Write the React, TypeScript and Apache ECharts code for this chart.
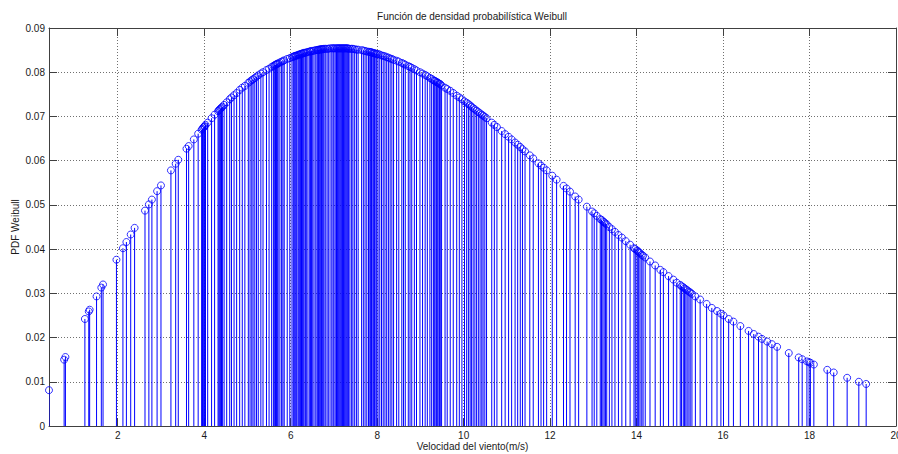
import React, { useEffect, useRef } from 'react';
import * as echarts from 'echarts';

const TITLE = 'Función de densidad probabilística Weibull';
const X_NAME = 'Velocidad del viento(m/s)';
const Y_NAME = 'PDF Weibull';

// wind speed samples (m/s)
const windSpeed = [
  0.41, 0.76, 0.79, 1.24, 1.33, 1.35, 1.51, 1.62, 1.66, 1.97,
  2.12, 2.2, 2.3, 2.39, 2.63, 2.72, 2.79, 2.91, 3.0, 3.23,
  3.34, 3.4, 3.59, 3.64, 3.76, 3.86, 3.94, 3.96, 3.98, 4.0,
  4.01, 4.03, 4.08, 4.17, 4.24, 4.32, 4.34, 4.36, 4.38, 4.4,
  4.42, 4.46, 4.52, 4.59, 4.63, 4.69, 4.75, 4.82, 4.88, 4.94,
  5.02, 5.06, 5.1, 5.13, 5.17, 5.21, 5.25, 5.31, 5.36, 5.44,
  5.5, 5.56, 5.6, 5.63, 5.65, 5.67, 5.69, 5.71, 5.75, 5.79,
  5.82, 5.85, 5.92, 5.98, 6.03, 6.06, 6.08, 6.1, 6.12, 6.14,
  6.17, 6.19, 6.21, 6.23, 6.25, 6.27, 6.29, 6.31, 6.34, 6.37,
  6.4, 6.44, 6.46, 6.48, 6.51, 6.54, 6.58, 6.61, 6.63, 6.64,
  6.66, 6.68, 6.7, 6.71, 6.73, 6.75, 6.77, 6.8, 6.84, 6.87,
  6.91, 6.95, 6.98, 7.0, 7.03, 7.06, 7.08, 7.1, 7.12, 7.14,
  7.16, 7.18, 7.2, 7.22, 7.24, 7.26, 7.28, 7.3, 7.32, 7.34,
  7.37, 7.41, 7.44, 7.48, 7.52, 7.56, 7.64, 7.68, 7.72, 7.76,
  7.8, 7.83, 7.85, 7.87, 7.9, 7.92, 7.94, 7.97, 7.99, 8.02,
  8.06, 8.1, 8.14, 8.18, 8.22, 8.26, 8.3, 8.34, 8.38, 8.45,
  8.5, 8.57, 8.61, 8.65, 8.72, 8.76, 8.8, 8.86, 8.91, 8.99,
  9.05, 9.11, 9.16, 9.22, 9.26, 9.3, 9.32, 9.34, 9.37, 9.39,
  9.41, 9.44, 9.46, 9.49, 9.57, 9.62, 9.69, 9.76, 9.84, 9.9,
  9.96, 10.02, 10.07, 10.11, 10.15, 10.18, 10.22, 10.26, 10.3, 10.34,
  10.38, 10.42, 10.45, 10.49, 10.53, 10.65, 10.71, 10.77, 10.88, 10.96,
  11.04, 11.11, 11.19, 11.25, 11.31, 11.36, 11.42, 11.53, 11.61, 11.73,
  11.79, 11.85, 11.92, 12.05, 12.15, 12.31, 12.38, 12.46, 12.58, 12.66,
  12.85, 12.97, 13.02, 13.08, 13.16, 13.19, 13.22, 13.25, 13.28, 13.31,
  13.37, 13.43, 13.5, 13.58, 13.66, 13.75, 13.85, 13.94, 13.97, 14.01,
  14.03, 14.05, 14.08, 14.12, 14.15, 14.2, 14.31, 14.43, 14.55, 14.62,
  14.74, 14.85, 14.93, 15.01, 15.04, 15.08, 15.11, 15.14, 15.17, 15.21,
  15.24, 15.28, 15.36, 15.47, 15.62, 15.74, 15.86, 15.95, 16.01, 16.13,
  16.24, 16.4, 16.59, 16.71, 16.82, 16.9, 17.02, 17.13, 17.25, 17.52,
  17.75, 17.83, 17.94, 17.99, 18.02, 18.1, 18.41, 18.56, 18.87, 19.14,
  19.31,
];

// PDF values, one for each wind speed
const pdfValues = [
  0.0081, 0.015, 0.0156, 0.0242, 0.0259, 0.0263, 0.0293, 0.0313, 0.032, 0.0376,
  0.0402, 0.0416, 0.0433, 0.0448, 0.0487, 0.0501, 0.0512, 0.0531, 0.0544, 0.0578,
  0.0593, 0.0602, 0.0627, 0.0633, 0.0648, 0.0661, 0.067, 0.0672, 0.0675, 0.0677,
  0.0678, 0.0681, 0.0686, 0.0696, 0.0704, 0.0712, 0.0714, 0.0716, 0.0718, 0.072,
  0.0722, 0.0726, 0.0732, 0.0739, 0.0743, 0.0748, 0.0753, 0.076, 0.0765, 0.0769,
  0.0776, 0.0779, 0.0782, 0.0784, 0.0787, 0.079, 0.0793, 0.0797, 0.08, 0.0805,
  0.0808, 0.0812, 0.0814, 0.0816, 0.0817, 0.0818, 0.0819, 0.082, 0.0822, 0.0824,
  0.0825, 0.0827, 0.083, 0.0832, 0.0834, 0.0835, 0.0836, 0.0837, 0.0837, 0.0838,
  0.0839, 0.084, 0.084, 0.0841, 0.0842, 0.0842, 0.0843, 0.0844, 0.0844, 0.0845,
  0.0846, 0.0847, 0.0847, 0.0848, 0.0848, 0.0849, 0.085, 0.085, 0.085, 0.0851,
  0.0851, 0.0851, 0.0852, 0.0852, 0.0852, 0.0852, 0.0853, 0.0853, 0.0853, 0.0853,
  0.0854, 0.0854, 0.0854, 0.0854, 0.0854, 0.0854, 0.0854, 0.0854, 0.0854, 0.0854,
  0.0854, 0.0854, 0.0854, 0.0854, 0.0854, 0.0854, 0.0854, 0.0854, 0.0854, 0.0853,
  0.0853, 0.0853, 0.0853, 0.0852, 0.0851, 0.0851, 0.085, 0.0849, 0.0848, 0.0847,
  0.0846, 0.0846, 0.0845, 0.0845, 0.0844, 0.0843, 0.0843, 0.0842, 0.0841, 0.0841,
  0.084, 0.0838, 0.0837, 0.0836, 0.0834, 0.0833, 0.0831, 0.083, 0.0828, 0.0826,
  0.0824, 0.0821, 0.0819, 0.0817, 0.0814, 0.0812, 0.081, 0.0807, 0.0804, 0.08,
  0.0797, 0.0794, 0.0791, 0.0787, 0.0785, 0.0782, 0.0781, 0.078, 0.0778, 0.0777,
  0.0776, 0.0774, 0.0773, 0.077, 0.0765, 0.0762, 0.0758, 0.0753, 0.0747, 0.0743,
  0.0739, 0.0734, 0.0731, 0.0728, 0.0725, 0.0722, 0.0719, 0.0716, 0.0713, 0.071,
  0.0707, 0.0704, 0.0702, 0.0699, 0.0696, 0.0686, 0.0681, 0.0676, 0.0667, 0.066,
  0.0654, 0.0648, 0.0641, 0.0636, 0.0631, 0.0626, 0.0621, 0.0612, 0.0605, 0.0594,
  0.0589, 0.0584, 0.0578, 0.0566, 0.0557, 0.0543, 0.0537, 0.053, 0.0519, 0.0512,
  0.0496, 0.0485, 0.0481, 0.0475, 0.0468, 0.0466, 0.0463, 0.0461, 0.0458, 0.0456,
  0.045, 0.0445, 0.0439, 0.0432, 0.0426, 0.0418, 0.041, 0.0402, 0.04, 0.0397,
  0.0395, 0.0393, 0.0391, 0.0387, 0.0385, 0.0381, 0.0372, 0.0363, 0.0353, 0.0348,
  0.0339, 0.0331, 0.0324, 0.0319, 0.0316, 0.0314, 0.0311, 0.0309, 0.0307, 0.0304,
  0.0302, 0.0299, 0.0293, 0.0286, 0.0276, 0.0267, 0.026, 0.0254, 0.025, 0.0242,
  0.0236, 0.0226, 0.0215, 0.0208, 0.0202, 0.0197, 0.0191, 0.0185, 0.0179, 0.0165,
  0.0155, 0.0151, 0.0146, 0.0144, 0.0143, 0.0139, 0.0127, 0.0121, 0.0109, 0.01,
  0.0095,
];

const X_MAX = 20;
const Y_MIN = 0;
const Y_MAX = 0.09;
const Y_STEP = 0.01;

export default function App() {
  const ref = useRef<HTMLDivElement>(null);

  useEffect(() => {
    if (!ref.current) return;
    const chart = echarts.init(ref.current, null, { renderer: 'svg' });
    const points = windSpeed.map((x, i) => [x, pdfValues[i]]);
    const xMin = windSpeed[0];
    const font = '"Liberation Sans", Arial, Helvetica, sans-serif';
    const axisColor = '#404040';
    const textColor = '#1a1a1a';
    const gridLine = { show: true, lineStyle: { color: '#707070', type: [1, 2], width: 1 } };
    const tick = { show: true, inside: true, length: 8, lineStyle: { color: axisColor } };
    const line = { show: true, onZero: false, lineStyle: { color: axisColor, width: 1 } };

    chart.setOption({
      animation: false,
      backgroundColor: '#ffffff',
      grid: { left: 49, right: 2, top: 28, bottom: 28, containLabel: false, outerBoundsMode: 'none' },
      graphic: [
        {
          type: 'text',
          x: 472,
          y: 16,
          style: {
            text: TITLE,
            font: `10px ${font}`,
            fill: textColor,
            textAlign: 'center',
            textVerticalAlign: 'middle',
          },
        },
      ],
      xAxis: [
        {
          type: 'value',
          position: 'bottom',
          min: xMin,
          max: X_MAX,
          splitNumber: 10,
          name: X_NAME,
          nameLocation: 'middle',
          nameGap: 15,
          nameMoveOverlap: false,
          nameTextStyle: { fontFamily: font, fontSize: 10, color: textColor },
          axisLine: line,
          axisTick: tick,
          axisLabel: { showMinLabel: false, fontFamily: font, fontSize: 10, color: textColor, margin: 4 },
          splitLine: gridLine,
        },
        {
          type: 'value',
          position: 'top',
          min: xMin,
          max: X_MAX,
          splitNumber: 10,
          axisLine: line,
          axisTick: tick,
          axisLabel: { show: false },
          splitLine: { show: false },
        },
      ],
      yAxis: [
        {
          type: 'value',
          position: 'left',
          min: Y_MIN,
          max: Y_MAX,
          interval: Y_STEP,
          name: Y_NAME,
          nameLocation: 'middle',
          nameGap: 29,
          nameMoveOverlap: false,
          nameTextStyle: { fontFamily: font, fontSize: 10, color: textColor },
          axisLine: line,
          axisTick: tick,
          axisLabel: { fontFamily: font, fontSize: 10, color: textColor, margin: 4 },
          splitLine: gridLine,
        },
        {
          type: 'value',
          position: 'right',
          min: Y_MIN,
          max: Y_MAX,
          interval: Y_STEP,
          axisLine: line,
          axisTick: tick,
          axisLabel: { show: false },
          splitLine: { show: false },
        },
      ],
      series: [
        {
          type: 'custom',
          xAxisIndex: 0,
          yAxisIndex: 0,
          clip: true,
          encode: { x: 0, y: 1 },
          data: points,
          renderItem: (params: any, api: any) => {
            const x = api.value(0);
            const y = api.value(1);
            const p0 = api.coord([x, 0]);
            const p1 = api.coord([x, y]);
            return {
              type: 'line',
              shape: { x1: p0[0], y1: p0[1], x2: p1[0], y2: p1[1] },
              style: { stroke: '#0000ff', lineWidth: 1 },
            };
          },
          z: 2,
        },
        {
          type: 'scatter',
          xAxisIndex: 0,
          yAxisIndex: 0,
          clip: false,
          symbol: 'circle',
          symbolSize: 7,
          data: points,
          itemStyle: { color: 'none', borderColor: '#0000ff', borderWidth: 1 },
          z: 3,
        },
      ],
    });

    return () => chart.dispose();
  }, []);

  return (
    <div
      ref={ref}
      style={{ position: 'fixed', left: 0, top: 0, width: 898, height: 454, background: '#fff' }}
    />
  );
}
